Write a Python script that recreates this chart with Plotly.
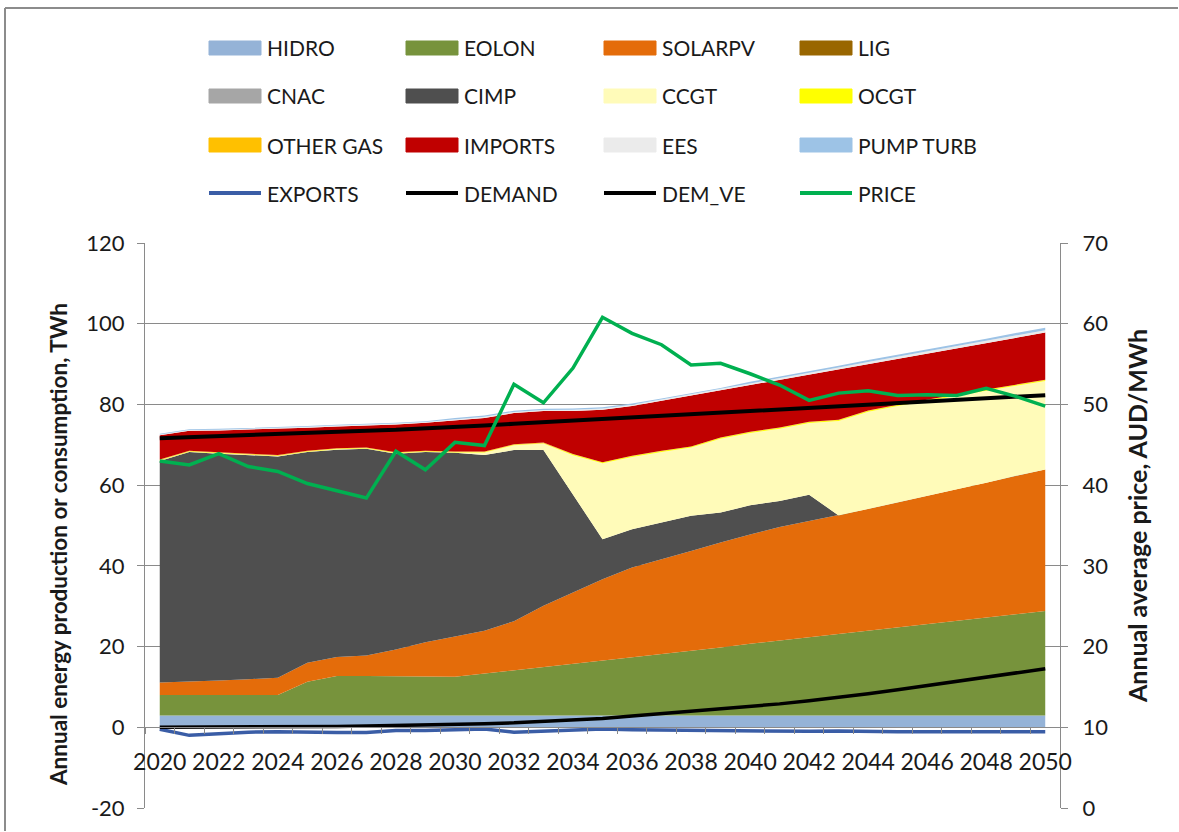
import plotly.graph_objects as go

years = list(range(2020, 2051))

# Annual production by technology, TWh (stacked bottom to top)
hidro = [2.9, 2.9, 2.9, 2.9, 2.9, 2.9, 2.9, 2.9, 2.9, 2.9, 2.9, 2.9, 2.9, 2.9, 2.9, 2.9,
         2.9, 2.9, 2.9, 2.9, 2.9, 2.9, 2.9, 2.9, 2.9, 2.9, 2.9, 2.9, 2.9, 2.9, 2.9]
eolon = [5.1, 5.1, 5.1, 5.1, 5.1, 8.4, 9.8, 9.8, 9.8, 9.7, 9.6, 10.4, 11.3, 12.1, 12.9, 13.7,
         14.5, 15.3, 16.1, 16.9, 17.8, 18.6, 19.4, 20.2, 21.0, 21.8, 22.6, 23.4, 24.3, 25.1, 25.9]
solarpv = [3.1, 3.3, 3.6, 3.9, 4.3, 4.7, 4.7, 5.1, 6.6, 8.5, 10.0, 10.6, 12.1, 15.1, 17.6, 20.1,
           22.2, 23.4, 24.7, 26.0, 27.1, 28.1, 28.8, 29.4, 30.2, 31.0, 31.9, 32.7, 33.4, 34.3, 35.1]
lig = [0.0, 0.0, 0.0, 0.0, 0.0, 0.0, 0.0, 0.0, 0.0, 0.0, 0.0, 0.0, 0.0, 0.0, 0.0, 0.0,
       0.0, 0.0, 0.0, 0.0, 0.0, 0.0, 0.0, 0.0, 0.0, 0.0, 0.0, 0.0, 0.0, 0.0, 0.0]
cnac = [0.0, 0.0, 0.0, 0.0, 0.0, 0.0, 0.0, 0.0, 0.0, 0.0, 0.0, 0.0, 0.0, 0.0, 0.0, 0.0,
        0.0, 0.0, 0.0, 0.0, 0.0, 0.0, 0.0, 0.0, 0.0, 0.0, 0.0, 0.0, 0.0, 0.0, 0.0]
cimp = [54.9, 56.9, 56.2, 55.5, 54.8, 52.2, 51.4, 51.2, 48.5, 47.1, 45.5, 43.6, 42.4, 38.6, 24.2, 9.9,
        9.5, 9.1, 8.7, 7.4, 7.2, 6.5, 6.5, 0.0, 0.0, 0.0, 0.0, 0.0, 0.0, 0.0, 0.0]
ccgt = [0.1, 0.1, 0.1, 0.1, 0.1, 0.1, 0.1, 0.1, 0.1, 0.1, 0.1, 0.6, 1.2, 1.6, 9.8, 18.8,
        17.9, 17.5, 16.9, 18.3, 17.9, 17.9, 17.8, 23.4, 24.1, 23.9, 23.5, 23.1, 22.8, 22.3, 21.9]
ocgt = [0.1, 0.1, 0.1, 0.1, 0.1, 0.1, 0.1, 0.1, 0.1, 0.1, 0.1, 0.1, 0.1, 0.1, 0.25, 0.25,
        0.25, 0.25, 0.25, 0.25, 0.25, 0.25, 0.25, 0.25, 0.25, 0.25, 0.25, 0.25, 0.25, 0.25, 0.25]
other_gas = [0.15, 0.15, 0.15, 0.15, 0.15, 0.15, 0.15, 0.15, 0.15, 0.15, 0.15, 0.15, 0.15, 0.15, 0.05, 0.05,
             0.05, 0.05, 0.05, 0.05, 0.05, 0.05, 0.05, 0.05, 0.05, 0.05, 0.05, 0.05, 0.05, 0.05, 0.05]
imports = [6.0, 4.9, 5.4, 6.0, 6.5, 5.7, 5.4, 5.4, 6.9, 6.9, 7.7, 8.3, 7.7, 7.8, 10.7, 13.0,
           12.3, 12.4, 12.6, 11.7, 11.6, 11.8, 11.7, 12.5, 11.5, 11.4, 11.4, 11.5, 11.5, 11.6, 11.7]
ees = [0.2, 0.2, 0.2, 0.2, 0.2, 0.2, 0.2, 0.2, 0.2, 0.2, 0.3, 0.3, 0.3, 0.3, 0.3, 0.3,
       0.3, 0.3, 0.3, 0.3, 0.4, 0.4, 0.45, 0.45, 0.5, 0.5, 0.5, 0.55, 0.55, 0.6, 0.6]
pump_turb = [0.2, 0.2, 0.2, 0.2, 0.2, 0.2, 0.2, 0.2, 0.2, 0.2, 0.3, 0.3, 0.3, 0.3, 0.3, 0.3,
             0.3, 0.3, 0.3, 0.3, 0.4, 0.4, 0.45, 0.45, 0.5, 0.5, 0.5, 0.55, 0.55, 0.6, 0.6]

# Consumption lines, TWh
exports = [-0.5, -2.0, -1.6, -1.2, -1.1, -1.3, -1.3, -1.3, -0.8, -0.8, -0.6, -0.4, -1.2, -0.9, -0.6, -0.4,
           -0.6, -0.7, -0.7, -0.8, -1.0, -1.0, -1.0, -0.9, -1.1, -1.1, -1.1, -1.1, -1.1, -1.1, -1.1]
demand = [71.6, 71.9, 72.2, 72.5, 72.8, 73.0, 73.3, 73.5, 73.7, 74.0, 74.4, 74.8, 75.2, 75.6, 76.0, 76.4,
          76.8, 77.2, 77.5, 77.9, 78.3, 78.7, 79.1, 79.5, 79.9, 80.3, 80.7, 81.1, 81.5, 81.9, 82.3]
dem_ve = [0.0, 0.0, 0.05, 0.1, 0.1, 0.15, 0.2, 0.3, 0.4, 0.5, 0.7, 0.9, 1.1, 1.4, 1.7, 2.2,
          2.8, 3.4, 3.8, 4.4, 5.0, 5.8, 6.6, 7.4, 8.3, 9.3, 10.3, 11.3, 12.3, 13.4, 14.5]

# Annual average price, AUD/MWh (right axis)
price = [43.0, 42.5, 43.9, 42.3, 41.7, 40.2, 39.3, 38.4, 44.2, 41.9, 45.3, 44.9, 52.5, 50.2, 54.5, 60.8,
         58.8, 57.4, 54.9, 55.1, 53.8, 52.4, 50.5, 51.4, 51.7, 51.1, 51.2, 51.1, 52.0, 51.0, 49.8]

# Axis ticks
energy_ticks = [-20, 0, 20, 40, 60, 80, 100, 120]
price_ticks = [0, 10, 20, 30, 40, 50, 60, 70]

area_names = ["HIDRO", "EOLON", "SOLARPV", "LIG", "CNAC", "CIMP", "CCGT", "OCGT",
              "OTHER GAS", "IMPORTS", "EES", "PUMP TURB"]
area_values = [hidro, eolon, solarpv, lig, cnac, cimp, ccgt, ocgt, other_gas, imports, ees, pump_turb]
area_colors = ["#95B3D7", "#77933C", "#E46C0A", "#996600", "#A6A6A6", "#4F4F4F", "#FFFBB9",
               "#FFFF00", "#FFC000", "#C00000", "#EBEBEB", "#9DC3E6"]

line_names = ["EXPORTS", "DEMAND", "DEM_VE", "PRICE"]
line_values = [exports, demand, dem_ve, price]
line_colors = ["#3A5DA6", "#000000", "#000000", "#00B050"]
line_widths = [3.5, 4, 3.5, 3.5]
line_axes = ["y", "y", "y", "y2"]

FONT = "Lato, Calibri, Carlito, sans-serif"
GRID = "#8A8A8A"
TXT = "#1A1A1A"

W, H = 1179, 832
L, R, T, B = 145, 119, 243, 24
PW, PH = W - L - R, H - T - B


def px(x):
    return (x - L) / PW


def py(y):
    return (H - B - y) / PH


fig = go.Figure()

for name, vals, col in zip(area_names, area_values, area_colors):
    fig.add_trace(go.Scatter(
        x=years, y=vals, name=name, mode="lines", stackgroup="gen",
        line=dict(width=0, color=col), fillcolor=col, showlegend=False,
        hoverinfo="x+y+name"))

for name, vals, col, w, ax in zip(line_names, line_values, line_colors, line_widths, line_axes):
    fig.add_trace(go.Scatter(
        x=years, y=vals, name=name, mode="lines", yaxis=ax,
        line=dict(color=col, width=w), showlegend=False))

# Legend: 4 columns x 4 rows, swatches for areas, strokes for lines
legend_names = area_names + line_names
legend_colors = area_colors + line_colors
col_x = [209, 406, 604, 800]
row_y = [48, 96, 145, 193]
shapes = []
annotations = []
for i, (name, col) in enumerate(zip(legend_names, legend_colors)):
    cx = col_x[i % 4]
    cy = row_y[i // 4]
    if i < len(area_names):
        shapes.append(dict(type="rect", xref="paper", yref="paper",
                           x0=px(cx), x1=px(cx + 52), y0=py(cy + 7), y1=py(cy - 7),
                           fillcolor=col, line=dict(color=col, width=1)))
    else:
        shapes.append(dict(type="line", xref="paper", yref="paper",
                           x0=px(cx), x1=px(cx + 52), y0=py(cy), y1=py(cy),
                           line=dict(color=col, width=4)))
    annotations.append(dict(text=name, xref="paper", yref="paper", x=px(cx + 56), y=py(cy),
                            xanchor="left", yanchor="middle", showarrow=False,
                            font=dict(family=FONT, size=21, color=TXT)))

# Axis titles
annotations.append(dict(text="<b>Annual energy production or consumption, TWh</b>",
                        xref="paper", yref="paper", x=px(58), y=py(545), textangle=-90,
                        xanchor="center", yanchor="middle", showarrow=False,
                        font=dict(family=FONT, size=22.5, color=TXT)))
annotations.append(dict(text="<b>Annual average price, AUD/MWh</b>",
                        xref="paper", yref="paper", x=px(1137), y=py(516), textangle=-90,
                        xanchor="center", yanchor="middle", showarrow=False,
                        font=dict(family=FONT, size=25, color=TXT)))

# Chart frame (left and top edges)
shapes.append(dict(type="line", xref="paper", yref="paper", x0=px(5), x1=px(1178),
                   y0=py(8), y1=py(8), line=dict(color="#8C8C8C", width=2)))
shapes.append(dict(type="line", xref="paper", yref="paper", x0=px(5), x1=px(5),
                   y0=py(8), y1=py(831), line=dict(color="#8C8C8C", width=2)))

fig.update_layout(
    width=W, height=H,
    margin=dict(l=L, r=R, t=T, b=B, pad=0),
    paper_bgcolor="white", plot_bgcolor="white",
    font=dict(family=FONT, size=21, color=TXT),
    showlegend=False,
    shapes=shapes, annotations=annotations,
    xaxis=dict(
        range=[2019.5, 2050.5], tickmode="array", tickvals=years[::2],
        ticks="", showline=True, linecolor=GRID, linewidth=1,
        anchor="free", position=20 / 140, showgrid=False, zeroline=False,
        tickfont=dict(family=FONT, size=23, color=TXT), ticklabelstandoff=14,
        minor=dict(tickmode="array", tickvals=[y + 0.5 for y in range(2019, 2050)],
                   ticks="outside", ticklen=6, tickcolor=GRID, showgrid=False),
    ),
    yaxis=dict(
        range=[-20, 120], tickmode="array", tickvals=energy_ticks,
        ticktext=[str(v) for v in energy_ticks],
        ticks="outside", ticklen=7, tickcolor=GRID, showline=True, linecolor=GRID,
        showgrid=True, gridcolor=GRID, gridwidth=1, zeroline=False,
        tickfont=dict(family=FONT, size=22, color=TXT), ticklabelstandoff=8,
    ),
    yaxis2=dict(
        range=[0, 70], tickmode="array", tickvals=price_ticks,
        ticktext=[str(v) for v in price_ticks], overlaying="y", side="right",
        ticks="outside", ticklen=7, tickcolor=GRID, showline=True, linecolor=GRID,
        showgrid=False, zeroline=False,
        tickfont=dict(family=FONT, size=22, color=TXT), ticklabelstandoff=10,
    ),
)

fig.write_html("out.html")
